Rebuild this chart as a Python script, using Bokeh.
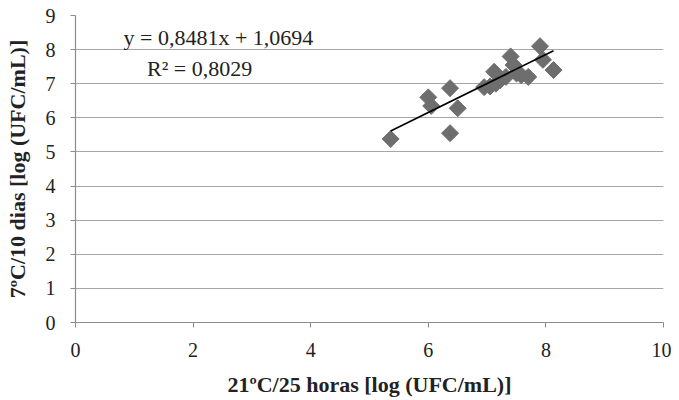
import math
from bokeh.plotting import figure
from bokeh.models import Range1d, FixedTicker, Label
from bokeh.embed import file_html
from bokeh.resources import INLINE

x_vals = [5.36, 6.00, 6.05, 6.37, 6.37, 6.50, 6.95, 7.05, 7.12, 7.15, 7.22, 7.32,
          7.40, 7.45, 7.50, 7.58, 7.70, 7.90, 7.95, 8.13]
y_vals = [5.38, 6.60, 6.35, 6.87, 5.55, 6.28, 6.90, 6.92, 7.35, 7.00, 7.10, 7.20,
          7.80, 7.55, 7.30, 7.25, 7.20, 8.10, 7.70, 7.40]
slope = 0.8481
intercept = 1.0694
eq_text = "y = 0,8481x + 1,0694"
r2_text = "R² = 0,8029"
x_ticks = [0, 2, 4, 6, 8, 10]
y_ticks = [0, 1, 2, 3, 4, 5, 6, 7, 8, 9]

FONT = "Liberation Serif"

p = figure(width=671, height=400, output_backend="svg", toolbar_location=None,
           x_range=Range1d(0, 10), y_range=Range1d(0, 9),
           min_border_left=75, min_border_right=8, min_border_top=15, min_border_bottom=78)
p.outline_line_color = None
p.background_fill_color = "white"

p.xgrid.grid_line_color = None
p.ygrid.grid_line_color = "#a6a6a6"
p.ygrid.grid_line_width = 1.2
p.ygrid.ticker = FixedTicker(ticks=y_ticks)

for ax in (p.xaxis[0], p.yaxis[0]):
    ax.axis_line_color = "#8c8c8c"
    ax.axis_line_width = 1.2
    ax.major_tick_line_color = "#8c8c8c"
    ax.major_tick_out = 5
    ax.major_tick_in = 0
    ax.minor_tick_line_color = None
    ax.major_label_text_font = FONT
    ax.major_label_text_font_size = "20px"
    ax.major_label_text_color = "#222222"
    ax.axis_label_text_font = FONT
    ax.axis_label_text_font_size = "22px"
    ax.axis_label_text_font_style = "bold"
    ax.axis_label_text_color = "#222222"

p.xaxis.ticker = FixedTicker(ticks=x_ticks)
p.yaxis.ticker = FixedTicker(ticks=y_ticks)
p.xaxis.axis_label = "21ºC/25 horas [log (UFC/mL)]"
p.yaxis.axis_label = "7ºC/10 dias [log (UFC/mL)]"
p.xaxis.major_label_standoff = 15
p.yaxis.major_label_standoff = 15
p.xaxis.axis_label_standoff = 12
p.yaxis.axis_label_standoff = 13

p.scatter(x_vals, y_vals, marker="square", angle=math.pi / 4, size=12,
          fill_color="#6e6e6e", line_color="#6e6e6e")

x0, x1 = min(x_vals), max(x_vals)
p.line([x0, x1], [slope * x0 + intercept, slope * x1 + intercept],
       line_color="black", line_width=1.6)

p.add_layout(Label(x=2.43, y=8.36, text=eq_text, text_font=FONT, text_font_size="22px",
                   text_align="center", text_baseline="middle", text_color="#222222"))
p.add_layout(Label(x=2.11, y=7.45, text=r2_text, text_font=FONT, text_font_size="22px",
                   text_align="center", text_baseline="middle", text_color="#222222"))

open("out.html", "w").write(file_html(p, INLINE))
